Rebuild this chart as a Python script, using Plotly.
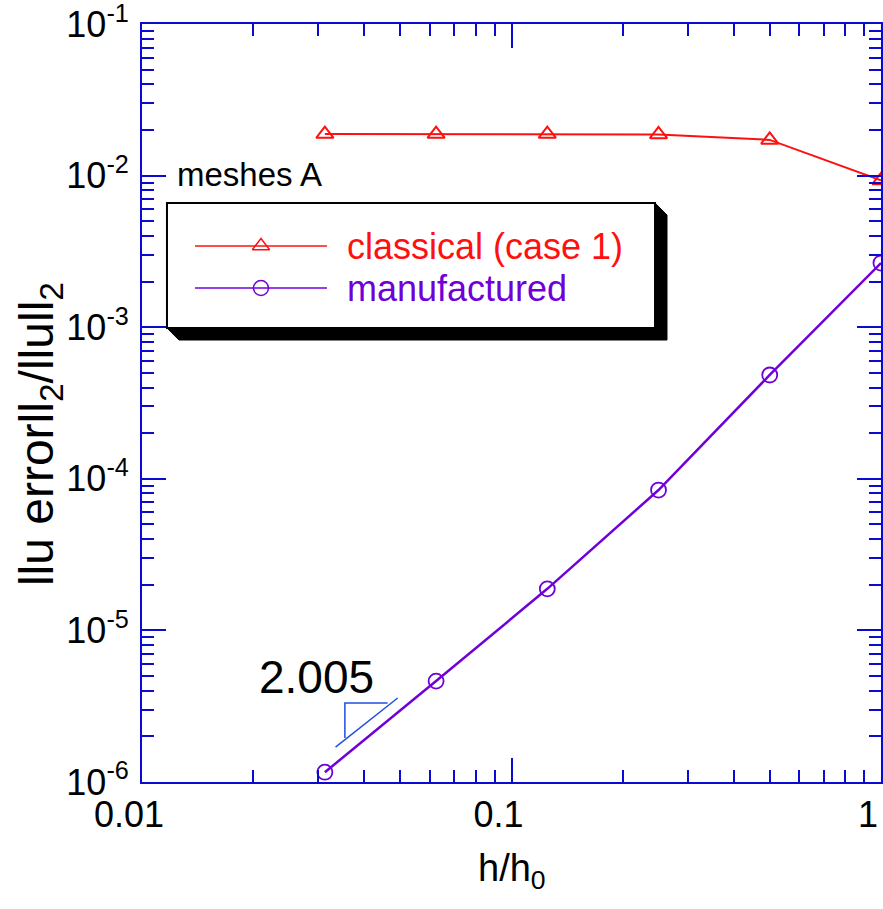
import math
import plotly.graph_objects as go

# Mesh size ratio h/h0 and relative L2 errors
h_ratio = [1/32, 1/16, 1/8, 1/4, 1/2, 1.0]
err_classical = [0.0188, 0.0188, 0.0188, 0.0187, 0.0172, 0.0093]
err_manufactured = [1.16e-6, 4.63e-6, 1.88e-5, 8.43e-5, 4.84e-4, 2.65e-3]

# Axis tick labels
x_tickvals = [0.01, 0.1, 1]
x_ticktext = ["0.01", "0.1", "1"]
y_exponents = [-6, -5, -4, -3, -2, -1]

# Slope indicator (order of convergence)
slope_label = "2.005"
slope_hyp_x = [0.0334, 0.0492]
slope_hyp_y = [1.70e-6, 3.58e-6]
slope_leg_x = [0.0354, 0.0354, 0.0462]
slope_leg_y = [1.95e-6, 3.32e-6, 3.32e-6]
slope_label_pos = (0.0297, 4.93e-6)

AXIS_BLUE = "#0a0ad0"
RED = "#ff1010"
PURPLE = "#7000d8"
TRI_BLUE = "#2050e0"
FONT = "Liberation Sans, Arial, Helvetica, sans-serif"

y_tickvals = [10.0 ** e for e in y_exponents]
y_ticktext = [f"10<sup>{e}</sup>" for e in y_exponents]


def minor_vals(lo, hi):
    return [k * 10.0 ** e for e in range(lo, hi) for k in range(2, 10)]


fig = go.Figure()

fig.add_trace(go.Scatter(
    x=h_ratio, y=err_classical, mode="lines+markers",
    line=dict(color=RED, width=2),
    marker=dict(symbol="triangle-up-open", size=15, color=RED, line=dict(width=2)),
    showlegend=False,
))
fig.add_trace(go.Scatter(
    x=h_ratio, y=err_manufactured, mode="lines+markers",
    line=dict(color=PURPLE, width=2.5),
    marker=dict(symbol="circle-open", size=15, color=PURPLE, line=dict(width=1.8)),
    showlegend=False,
))

# slope triangle
fig.add_trace(go.Scatter(
    x=slope_hyp_x + [None] + slope_leg_x,
    y=slope_hyp_y + [None] + slope_leg_y,
    mode="lines", line=dict(color=TRI_BLUE, width=1.5),
    showlegend=False, hoverinfo="skip",
))

# Hand-drawn legend on an overlay frame spanning the plot area (0..1)
legend_rows = [
    ("classical (case 1)", RED, "triangle-up-open", 0.7071),
    ("manufactured", PURPLE, "circle-open", 0.6517),
]
for name, color, symbol, yy in legend_rows:
    fig.add_trace(go.Scatter(
        x=[0.0717, 0.2503], y=[yy, yy], mode="lines",
        line=dict(color=color, width=1.5),
        xaxis="x2", yaxis="y2", showlegend=False, hoverinfo="skip",
    ))
    fig.add_trace(go.Scatter(
        x=[0.161], y=[yy], mode="markers",
        marker=dict(symbol=symbol, size=15, color=color, line=dict(width=1.5)),
        xaxis="x2", yaxis="y2", showlegend=False, hoverinfo="skip",
    ))

shapes = [
    # drop shadow of the legend box
    dict(type="path", xref="paper", yref="paper",
         path="M 0.6942 0.7639 L 0.7104 0.7480 L 0.7104 0.5831 L 0.0500 0.5831 L 0.0338 0.5989 Z",
         fillcolor="black", line=dict(color="black", width=1), layer="below"),
    dict(type="rect", xref="paper", yref="paper",
         x0=0.0338, x1=0.6942, y0=0.5989, y1=0.7639,
         fillcolor="white", line=dict(color="black", width=2), layer="below"),
]

annotations = [
    dict(text="meshes A", xref="paper", yref="paper", x=0.044, y=0.8008,
         xanchor="left", yanchor="middle", showarrow=False,
         font=dict(family=FONT, size=33, color="black")),
    dict(text=slope_label, xref="x", yref="y",
         x=math.log10(slope_label_pos[0]), y=math.log10(slope_label_pos[1]),
         xanchor="center", yanchor="middle", showarrow=False,
         font=dict(family=FONT, size=46, color="black")),
    dict(text="llu errorll<sub>2</sub>/llull<sub>2</sub>", xref="paper", yref="paper",
         x=-0.138, y=0.459, textangle=-90, xanchor="center", yanchor="middle",
         showarrow=False, font=dict(family=FONT, size=48, color="black")),
    dict(text="h/h<sub>0</sub>", xref="paper", yref="paper",
         x=0.5, y=-0.118, xanchor="center", yanchor="middle",
         showarrow=False, font=dict(family=FONT, size=38, color="black")),
]
for name, color, symbol, yy in legend_rows:
    annotations.append(dict(
        text=name, xref="paper", yref="paper", x=0.2747, y=yy,
        xanchor="left", yanchor="middle", showarrow=False,
        font=dict(family=FONT, size=36, color=color),
    ))

axis_common = dict(
    showline=True, linecolor=AXIS_BLUE, linewidth=2, mirror="allticks",
    ticks="inside", ticklen=24, tickwidth=2, tickcolor=AXIS_BLUE,
    showgrid=False, zeroline=False, ticklabeloverflow="allow", automargin=False,
    tickfont=dict(family=FONT, size=36, color="black"),
)

EPS = 1e-4
fig.update_layout(
    width=883, height=909,
    margin=dict(l=142, r=2, t=24, b=127, autoexpand=False),
    paper_bgcolor="white", plot_bgcolor="white",
    xaxis=dict(type="log", range=[-2 - EPS, 0 + EPS], tickmode="array",
               tickvals=x_tickvals, ticktext=x_ticktext, ticklabelshift=-13,
               minor=dict(tickmode="array", tickvals=minor_vals(-2, 0),
                          ticks="inside", ticklen=12, tickwidth=2, tickcolor=AXIS_BLUE,
                          showgrid=False),
               **axis_common),
    yaxis=dict(type="log", range=[-6 - EPS, -1 + EPS], tickmode="array",
               tickvals=y_tickvals, ticktext=y_ticktext, ticklabelstandoff=4,
               minor=dict(tickmode="array", tickvals=minor_vals(-6, -1),
                          ticks="inside", ticklen=12, tickwidth=2, tickcolor=AXIS_BLUE,
                          showgrid=False),
               **axis_common),
    xaxis2=dict(overlaying="x", range=[0, 1], visible=False, fixedrange=True),
    yaxis2=dict(overlaying="y", range=[0, 1], visible=False, fixedrange=True),
    shapes=shapes,
    annotations=annotations,
    showlegend=False,
)

fig.write_html("out.html")
